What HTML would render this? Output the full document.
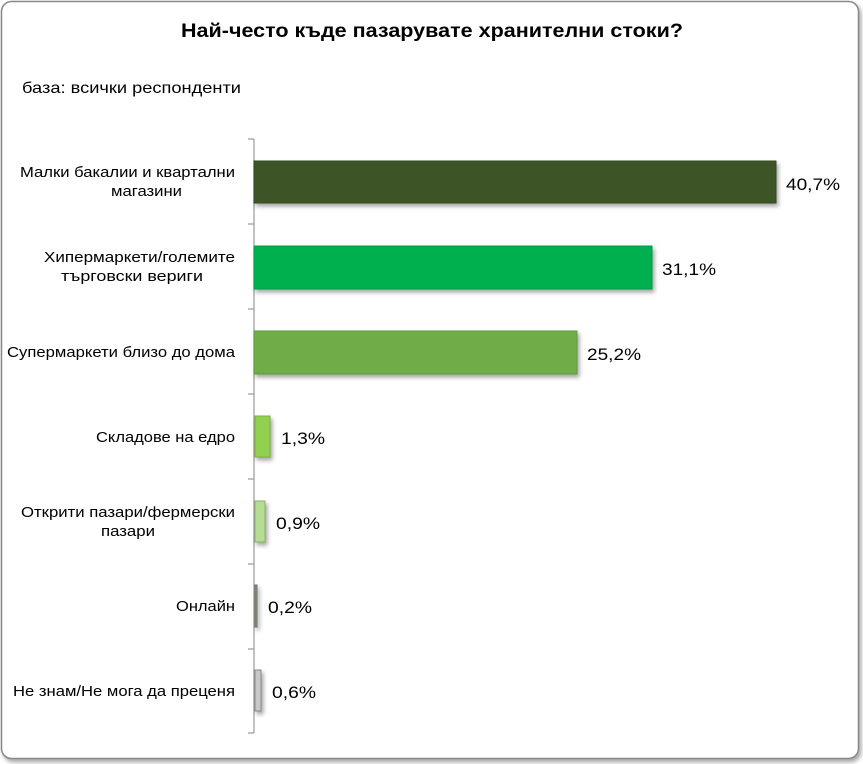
<!DOCTYPE html>
<html><head><meta charset="utf-8"><style>
body{margin:0;background:#fff;}
svg{display:block;font-family:"Liberation Sans","DejaVu Sans",sans-serif;}
</style></head><body>
<svg width="863" height="764" viewBox="0 0 863 764" xmlns="http://www.w3.org/2000/svg">
<defs><filter id="sh" x="-5%" y="-20%" width="115%" height="150%"><feDropShadow dx="2" dy="3" stdDeviation="2" flood-color="#000" flood-opacity="0.35"/></filter></defs>
<rect x="1.5" y="1.5" width="857" height="757" rx="10" fill="#fff" stroke="#888" stroke-width="1.5" filter="url(#sh)"/>
<text x="181" y="37" font-size="19" font-weight="bold" fill="#000" textLength="502" lengthAdjust="spacingAndGlyphs">Най-често къде пазарувате хранителни стоки?</text>
<text x="22" y="93" font-size="16" fill="#000" textLength="219" lengthAdjust="spacingAndGlyphs">база: всички респонденти</text>
<g stroke="#999" stroke-width="1.2">
<line x1="254" y1="139" x2="254" y2="733"/>
<line x1="248" y1="139" x2="254" y2="139"/><line x1="248" y1="224" x2="254" y2="224"/>
<line x1="248" y1="309" x2="254" y2="309"/><line x1="248" y1="394" x2="254" y2="394"/>
<line x1="248" y1="479" x2="254" y2="479"/><line x1="248" y1="564" x2="254" y2="564"/>
<line x1="248" y1="649" x2="254" y2="649"/><line x1="248" y1="733" x2="254" y2="733"/>
</g>
<g filter="url(#sh)" stroke-width="1">
<rect x="254" y="161" width="522" height="42" fill="#3d5426" stroke="#344820"/>
<rect x="254" y="246" width="398" height="43" fill="#00b050" stroke="#00a048"/>
<rect x="254" y="331" width="323" height="43" fill="#70ad47" stroke="#5e9a3a"/>
<rect x="255" y="416" width="15" height="41" fill="#92d050" stroke="#7ab040"/>
<rect x="255" y="501" width="10" height="41" fill="#b5de94" stroke="#8ab070"/>
<rect x="255" y="585" width="2" height="42" fill="#8a9a80" stroke="#667060"/>
<rect x="255" y="670" width="6" height="41" fill="#c8c8c8" stroke="#888"/>
</g>
<g font-size="17" fill="#000">
<text x="786" y="190" textLength="54" lengthAdjust="spacingAndGlyphs">40,7%</text>
<text x="662" y="275" textLength="54" lengthAdjust="spacingAndGlyphs">31,1%</text>
<text x="587" y="360" textLength="54" lengthAdjust="spacingAndGlyphs">25,2%</text>
<text x="281" y="444" textLength="44" lengthAdjust="spacingAndGlyphs">1,3%</text>
<text x="276" y="529" textLength="44" lengthAdjust="spacingAndGlyphs">0,9%</text>
<text x="268" y="613" textLength="44" lengthAdjust="spacingAndGlyphs">0,2%</text>
<text x="272" y="698" textLength="44" lengthAdjust="spacingAndGlyphs">0,6%</text>
</g>
<g font-size="15" fill="#000">
<text x="20" y="177" textLength="215" lengthAdjust="spacingAndGlyphs">Малки бакалии и квартални</text>
<text x="111" y="196" textLength="71" lengthAdjust="spacingAndGlyphs">магазини</text>
<text x="44" y="262" textLength="191" lengthAdjust="spacingAndGlyphs">Хипермаркети/големите</text>
<text x="61" y="281" textLength="142" lengthAdjust="spacingAndGlyphs">търговски вериги</text>
<text x="7" y="357" textLength="228" lengthAdjust="spacingAndGlyphs">Супермаркети близо до дома</text>
<text x="96" y="442" textLength="139" lengthAdjust="spacingAndGlyphs">Складове на едро</text>
<text x="21" y="517" textLength="214" lengthAdjust="spacingAndGlyphs">Открити пазари/фермерски</text>
<text x="101" y="536" textLength="54" lengthAdjust="spacingAndGlyphs">пазари</text>
<text x="176" y="611" textLength="59" lengthAdjust="spacingAndGlyphs">Онлайн</text>
<text x="13" y="696" textLength="222" lengthAdjust="spacingAndGlyphs">Не знам/Не мога да преценя</text>
</g>
</svg>
</body></html>
